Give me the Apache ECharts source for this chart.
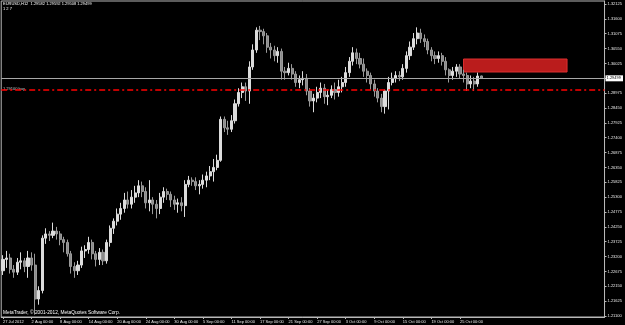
<!DOCTYPE html>
<html><head><meta charset="utf-8">
<script src="https://cdn.jsdelivr.net/npm/echarts@6/dist/echarts.min.js"></script>
<style>html,body{margin:0;padding:0;background:#000}#c{width:625px;height:325px}</style>
</head><body><div id="c"></div>
<script>
const symbolTitle = 'EURUSD,H12  1.29582 1.29592 1.29508 1.29499';
const subTitle = '1 2 7';
const copyright = 'MetaTrader, \u00a9 2001-2012, MetaQuotes Software Corp.';
const opens = [
1.2270,1.2310,1.2315,1.2275,1.2265,1.2300,1.2305,1.2285,1.2315,1.2290,
1.2170,1.2200,1.2385,1.2400,1.2395,1.2410,1.2400,1.2380,1.2370,1.2330,
1.2285,1.2270,1.2290,1.2340,1.2345,1.2370,1.2330,1.2310,1.2335,1.2305,
1.2370,1.2420,1.2445,1.2470,1.2490,1.2520,1.2505,1.2530,1.2545,1.2570,
1.2550,1.2510,1.2520,1.2505,1.2490,1.2530,1.2550,1.2540,1.2520,1.2505,
1.2510,1.2500,1.2575,1.2590,1.2585,1.2570,1.2575,1.2590,1.2605,1.2620,
1.2635,1.2660,1.2805,1.2775,1.2770,1.2800,1.2860,1.2900,1.2920,1.2905,
1.2990,1.3050,1.3120,1.3115,1.3100,1.3060,1.3050,1.3030,1.3045,1.2975,
1.2970,1.2985,1.2965,1.2935,1.2945,1.2950,1.2905,1.2870,1.2880,1.2900,
1.2915,1.2885,1.2890,1.2910,1.2900,1.2920,1.2935,1.2970,1.3010,1.3040,
1.3020,1.3000,1.2975,1.2960,1.2930,1.2905,1.2880,1.2850,1.2905,1.2935,
1.2950,1.2960,1.2955,1.2985,1.3030,1.3060,1.3090,1.3110,1.3090,1.3080,
1.3050,1.3030,1.3020,1.3030,1.3010,1.2980,1.2960,1.2975,1.2990,1.2965,
1.2960,1.2930,1.2940,1.2930,1.29582];
const closes = [
1.2310,1.2315,1.2275,1.2265,1.2300,1.2305,1.2285,1.2315,1.2290,1.2170,
1.2200,1.2385,1.2400,1.2395,1.2410,1.2400,1.2380,1.2370,1.2330,1.2285,
1.2270,1.2290,1.2340,1.2345,1.2370,1.2330,1.2310,1.2335,1.2305,1.2370,
1.2420,1.2445,1.2470,1.2490,1.2520,1.2505,1.2530,1.2545,1.2570,1.2550,
1.2510,1.2520,1.2505,1.2490,1.2530,1.2550,1.2540,1.2520,1.2505,1.2510,
1.2500,1.2575,1.2590,1.2585,1.2570,1.2575,1.2590,1.2605,1.2620,1.2635,
1.2660,1.2805,1.2775,1.2770,1.2800,1.2860,1.2900,1.2920,1.2905,1.2990,
1.3050,1.3120,1.3115,1.3100,1.3060,1.3050,1.3030,1.3045,1.2975,1.2970,
1.2985,1.2965,1.2935,1.2945,1.2950,1.2905,1.2870,1.2880,1.2900,1.2915,
1.2885,1.2890,1.2910,1.2900,1.2920,1.2935,1.2970,1.3010,1.3040,1.3020,
1.3000,1.2975,1.2960,1.2930,1.2905,1.2880,1.2850,1.2905,1.2935,1.2950,
1.2960,1.2955,1.2985,1.3030,1.3060,1.3090,1.3110,1.3090,1.3080,1.3050,
1.3030,1.3020,1.3030,1.3010,1.2980,1.2960,1.2975,1.2990,1.2965,1.2960,
1.2930,1.2940,1.2930,1.2958,1.29499];
const lows = [
1.2255,1.2280,1.2260,1.2245,1.2255,1.2275,1.2265,1.2245,1.2270,1.2115,
1.2150,1.2190,1.2365,1.2375,1.2385,1.2380,1.2360,1.2335,1.2320,1.2260,
1.2245,1.2255,1.2280,1.2315,1.2330,1.2310,1.2285,1.2290,1.2290,1.2295,
1.2355,1.2400,1.2430,1.2450,1.2475,1.2490,1.2490,1.2510,1.2530,1.2530,
1.2490,1.2480,1.2470,1.2455,1.2470,1.2510,1.2520,1.2495,1.2485,1.2475,
1.2480,1.2460,1.2565,1.2570,1.2555,1.2540,1.2560,1.2565,1.2590,1.2585,
1.2625,1.2655,1.2760,1.2750,1.2760,1.2790,1.2850,1.2880,1.2870,1.2860,
1.2980,1.3040,1.3085,1.3070,1.3040,1.3020,1.3010,1.3005,1.2945,1.2945,
1.2960,1.2945,1.2920,1.2915,1.2925,1.2890,1.2850,1.2830,1.2865,1.2880,
1.2860,1.2855,1.2880,1.2875,1.2885,1.2900,1.2920,1.2955,1.2995,1.3000,
1.2985,1.2955,1.2935,1.2910,1.2885,1.2865,1.2830,1.2825,1.2840,1.2925,
1.2935,1.2940,1.2945,1.2970,1.3015,1.3050,1.3070,1.3075,1.3060,1.3035,
1.3010,1.3000,1.3005,1.2995,1.2960,1.2935,1.2945,1.2955,1.2950,1.2935,
1.2905,1.2915,1.2905,1.2920,1.29499];
const highs = [
1.2325,1.2340,1.2330,1.2290,1.2315,1.2335,1.2315,1.2340,1.2335,1.2330,
1.2215,1.2395,1.2420,1.2410,1.2440,1.2425,1.2410,1.2390,1.2380,1.2340,
1.2300,1.2305,1.2355,1.2360,1.2390,1.2380,1.2340,1.2350,1.2345,1.2380,
1.2430,1.2455,1.2490,1.2510,1.2545,1.2550,1.2555,1.2570,1.2590,1.2585,
1.2565,1.2590,1.2530,1.2520,1.2545,1.2565,1.2560,1.2550,1.2535,1.2525,
1.2530,1.2590,1.2605,1.2600,1.2600,1.2590,1.2610,1.2620,1.2640,1.2665,
1.2680,1.2815,1.2815,1.2800,1.2820,1.2875,1.2915,1.2935,1.2935,1.3010,
1.3070,1.3130,1.3135,1.3125,1.3110,1.3075,1.3065,1.3060,1.3055,1.2990,
1.3005,1.3000,1.2975,1.2960,1.2975,1.2965,1.2915,1.2895,1.2920,1.2935,
1.2930,1.2910,1.2925,1.2935,1.2945,1.2955,1.2990,1.3025,1.3060,1.3055,
1.3040,1.3020,1.2985,1.2970,1.2945,1.2915,1.2895,1.2910,1.2955,1.2970,
1.2975,1.2975,1.3000,1.3045,1.3080,1.3110,1.3130,1.3125,1.3105,1.3090,
1.3060,1.3045,1.3045,1.3040,1.3025,1.2985,1.2990,1.3000,1.3000,1.2980,
1.2970,1.2960,1.2955,1.2970,1.29592];
const priceTicks = [1.32125,1.31600,1.31075,1.30550,1.30025,1.29500,1.28975,1.28450,1.27925,1.27400,
1.26875,1.26350,1.25825,1.25300,1.24775,1.24250,1.23725,1.23200,1.22675,1.22150,1.21625,1.21100];
const bidPrice = 1.29499;
const levelPrice = 1.29100;
const levelLabel = '1.29100 buy';
const zoneTop = 1.30182, zoneBottom = 1.29722;
const zoneStartBar = 129, zoneEndBar = 158;
const visibleBars = 169;
const startDate = [2012, 6, 27];
const months = ['Jan','Feb','Mar','Apr','May','Jun','Jul','Aug','Sep','Oct','Nov','Dec'];

function buildCategories(n) {
  const out = [];
  let d = new Date(Date.UTC(startDate[0], startDate[1], startDate[2]));
  while (out.length < n) {
    const wd = d.getUTCDay();
    if (wd !== 0 && wd !== 6) {
      ['00:00', '12:00'].forEach(h => out.push({d: d.getUTCDate(), m: months[d.getUTCMonth()], y: d.getUTCFullYear(), h: h}));
    }
    d = new Date(d.getTime() + 86400000);
  }
  return out.slice(0, n);
}
const catObjs = buildCategories(visibleBars);
const categories = catObjs.map((c, i) => i === 0 ? (c.d + ' ' + c.m + ' ' + c.y) : (c.d + ' ' + c.m + ' ' + c.h));
const nBars = opens.length;
const candleData = opens.map((o, i) => [o, closes[i], lows[i], highs[i]]);

const FONT = 'Liberation Sans';
const FS = 4.0;
const showIdx = (idx) => idx < nBars && idx % 8 === 0;

const chart = echarts.init(document.getElementById('c'));
const option = {
  backgroundColor: '#000000',
  animation: false,
  grid: { left: 1, right: 18, top: 1, bottom: 8, show: true, borderColor: '#b8b8b8', borderWidth: 1, backgroundColor: '#000' },
  xAxis: {
    type: 'category', data: categories, boundaryGap: true,
    axisLine: { show: true, lineStyle: { color: '#b8b8b8', width: 1 } },
    axisTick: { show: true, alignWithLabel: true, interval: showIdx, length: 2, lineStyle: { color: '#b8b8b8' } },
    axisLabel: { show: true, interval: showIdx, align: 'left', margin: 2.5, color: '#e8e8e8', fontSize: FS, fontFamily: FONT },
    splitLine: { show: false }
  },
  yAxis: {
    type: 'value', position: 'right', scale: true,
    min: 1.21065, max: 1.32231,
    axisLine: { show: true, lineStyle: { color: '#b8b8b8', width: 1 } },
    axisTick: { show: true, length: 2, customValues: priceTicks, lineStyle: { color: '#b8b8b8' } },
    axisLabel: { show: true, margin: 3, color: '#e8e8e8', fontSize: FS, fontFamily: FONT, customValues: priceTicks,
      formatter: v => v.toFixed(5) },
    splitLine: { show: false }
  },
  series: [{
    type: 'candlestick',
    data: candleData,
    barWidth: 2.6,
    itemStyle: { color: '#dcdcdc', color0: '#8a8a8a', borderColor: '#dcdcdc', borderColor0: '#9a9a9a', borderWidth: 1 },
    markLine: {
      symbol: ['none', 'none'], silent: true, animation: false, precision: 5,
      lineStyle: { color: '#a8a8a8', width: 1, type: 'solid' },
      data: [
        { yAxis: bidPrice,
          label: { show: true, position: 'end', distance: 1, formatter: bidPrice.toFixed(5), backgroundColor: '#ffffff', color: '#000', fontSize: FS, fontFamily: FONT, padding: [1, 2, 1, 1] } }
      ]
    },
    markArea: {
      silent: true,
      itemStyle: { color: '#c41e1e', borderColor: '#e03030', borderWidth: 1, opacity: 0.95 },
      data: [[ { xAxis: categories[zoneStartBar], yAxis: zoneTop }, { xAxis: categories[zoneEndBar], yAxis: zoneBottom } ]]
    }
  }, {
    type: 'line', data: [], silent: true, color: '#ff0000',
    markLine: {
      symbol: ['none', 'none'], silent: true, animation: false, precision: 5,
      lineStyle: { color: '#ff0000', width: 1.5, type: [6, 3, 2, 3], opacity: 1 },
      emphasis: { disabled: true },
      label: { show: false },
      data: [ { yAxis: levelPrice } ]
    }
  }]
};
chart.setOption(option);
const yLevel = chart.convertToPixel({ yAxisIndex: 0 }, levelPrice);
chart.setOption({
  graphic: [
    { type: 'text', left: 3, top: 2, style: { text: symbolTitle, fill: '#ffffff', fontSize: FS, fontFamily: FONT } },
    { type: 'text', left: 3, top: 7, style: { text: subTitle, fill: '#ffffff', fontSize: FS, fontFamily: FONT } },
    { type: 'text', left: 3, top: yLevel - 2.5, style: { text: levelLabel, fill: '#c8c8c8', fontSize: FS, fontFamily: FONT } },
    { type: 'text', left: 3, top: 310, style: { text: copyright, fill: '#ffffff', fontSize: 4.8, fontFamily: FONT } }
  ]
});
</script></body></html>
